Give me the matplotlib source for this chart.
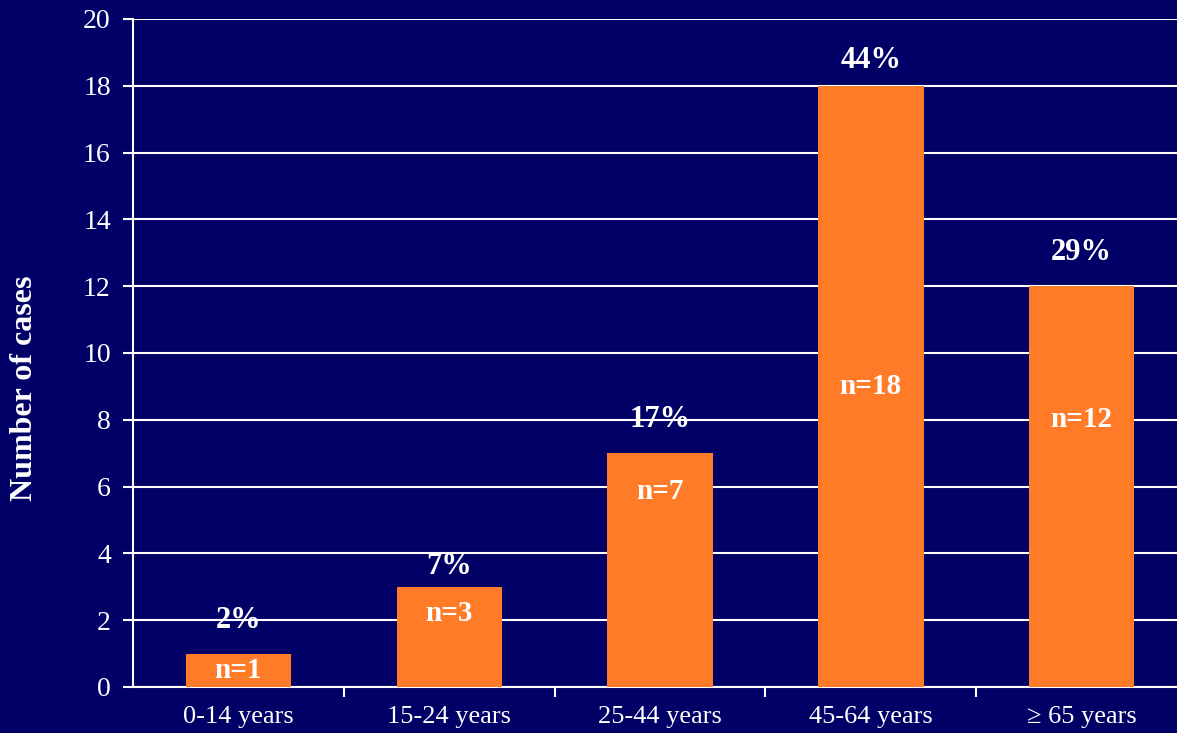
import matplotlib
matplotlib.use("Agg")
import matplotlib.pyplot as plt
import numpy as np

# data
categories = ["0-14 years", "15-24 years", "25-44 years", "45-64 years", "\u2265 65 years"]
cases = [1, 3, 7, 18, 12]
pct_labels = ["2%", "7%", "17%", "44%", "29%"]

# label heights (data units) as placed in the original slide
pct_y = [2.0, 3.62, 8.02, 18.77, 13.02]
n_y = [0.5, 2.2, 5.85, 9.0, 8.0]

BG = "#000066"
ORANGE = "#FF7B27"
WHITE = "#FFFFFF"

plt.rcParams["font.family"] = ["Liberation Serif", "DejaVu Serif"]

fig = plt.figure(figsize=(11.77, 7.33), dpi=100, facecolor=BG)
# axes runs slightly past the right edge, like the cropped slide
ax = fig.add_axes([133 / 1177, 1 - 687 / 733, 1054 / 1177, 668 / 733])
ax.set_facecolor(BG)

x = np.arange(len(categories))
ax.bar(x, cases, width=0.5, color=ORANGE, zorder=3)

for xi, n, p, py, ny in zip(x, cases, pct_labels, pct_y, n_y):
    ax.text(xi, py, p, ha="center", va="center", color=WHITE,
            fontsize=22, fontweight="bold", zorder=4)
    ax.text(xi, ny, f"n={n}", ha="center", va="center", color=WHITE,
            fontsize=21, fontweight="bold", zorder=4)

ax.set_xlim(-0.5, len(categories) - 0.5)
ax.set_ylim(0, 20)
ax.set_yticks(range(0, 21, 2))
ax.yaxis.grid(True, color=WHITE, linewidth=1.5, zorder=1)

# ticks on category boundaries, labels at centres
ax.set_xticks(np.arange(0.5, len(categories) - 0.5, 1))
ax.set_xticklabels([])
ax.set_xticks(x, minor=True)
ax.set_xticklabels(categories, minor=True)
ax.tick_params(axis="x", which="major", length=7, width=1.5, color=WHITE, direction="out")
ax.tick_params(axis="x", which="minor", length=0, pad=14, labelsize=19, labelcolor=WHITE)
ax.tick_params(axis="y", length=7, width=1.5, color=WHITE, labelsize=20,
               labelcolor=WHITE, pad=9)

for side in ("top", "right"):
    ax.spines[side].set_visible(False)
for side in ("left", "bottom"):
    ax.spines[side].set_color(WHITE)
    ax.spines[side].set_linewidth(1.5)

fig.text(25 / 1177, 1 - 388 / 733, "Number of cases", rotation=90, ha="center", va="center",
         color=WHITE, fontsize=23, fontweight="bold")

fig.savefig("out.png", dpi=100, facecolor=BG)
